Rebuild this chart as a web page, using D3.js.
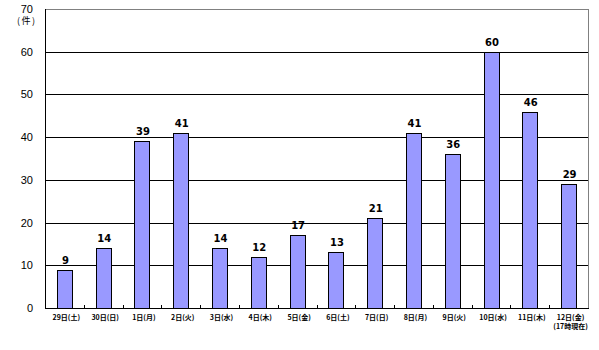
<!DOCTYPE html>
<html><head><meta charset="utf-8">
<script src="https://cdn.jsdelivr.net/npm/d3@7"></script>
<style>body{margin:0;background:#fff}svg{display:block}</style>
</head><body>
<svg id="c" width="599" height="350"></svg>
<script>
const categories = ["29日(土)","30日(日)","1日(月)","2日(火)","3日(水)","4日(木)","5日(金)","6日(土)","7日(日)","8日(月)","9日(火)","10日(水)","11日(木)","12日(金)"];
const subLabels = ["","","","","","","","","","","","","","(17時現在)"];
const values = [9,14,39,41,14,12,17,13,21,41,36,60,46,29];
const yTicks = [0,10,20,30,40,50,60,70];
const yUnit = "(件)";

const svg = d3.select("#c");
const L = 45, R = 588, T = 9, B = 308;
const x = d3.scaleBand().domain(categories).range([L, R]);
const y = d3.scaleLinear().domain([0,70]).range([B, T]);
const font = "'Noto Sans CJK JP', sans-serif";

// gridlines
svg.append("g").selectAll("line").data(yTicks.filter(d=>d>0)).join("line")
  .attr("x1", L).attr("x2", R)
  .attr("y1", d=>Math.round(y(d))+0.5).attr("y2", d=>Math.round(y(d))+0.5)
  .attr("stroke", d=> d===70 ? "#808080" : "#000").attr("stroke-width", 1);
// right border
svg.append("line").attr("x1", R+0.5).attr("x2", R+0.5).attr("y1", Math.round(y(70))).attr("y2", B+1)
  .attr("stroke", "#808080");

// bars
const bw = 15;
svg.append("g").selectAll("rect").data(values).join("rect")
  .attr("x", (d,i)=>Math.round(x(categories[i]) + x.bandwidth()/2 - bw/2)+0.5)
  .attr("y", d=>Math.round(y(d))+0.5)
  .attr("width", bw)
  .attr("height", d=>Math.round(B) - Math.round(y(d)))
  .attr("fill", "#9999ff").attr("stroke", "#000").attr("stroke-width", 1);

// value labels
svg.append("g").selectAll("text").data(values).join("text")
  .attr("x", (d,i)=>x(categories[i]) + x.bandwidth()/2 + 1)
  .attr("y", d=>y(d) - 6)
  .attr("text-anchor", "middle")
  .attr("font-family", "'DejaVu Sans', sans-serif").attr("font-weight", "bold")
  .attr("font-size", 10).attr("fill", "#000")
  .text(d=>d);

// axes lines
svg.append("line").attr("x1", L+0.5).attr("x2", L+0.5).attr("y1", T).attr("y2", B+1).attr("stroke", "#000");
svg.append("line").attr("x1", L).attr("x2", R+1).attr("y1", B+0.5).attr("y2", B+0.5).attr("stroke", "#000");

// inner category ticks
const bounds = categories.slice(1).map(c=>x(c));
svg.append("g").selectAll("line").data(bounds).join("line")
  .attr("x1", d=>Math.round(d)+0.5).attr("x2", d=>Math.round(d)+0.5)
  .attr("y1", B-3).attr("y2", B).attr("stroke", "#000");

// y tick labels
svg.append("g").selectAll("text").data(yTicks).join("text")
  .attr("x", 33).attr("y", d=>y(d)+4)
  .attr("text-anchor", "end")
  .attr("font-family", "'Liberation Sans Narrow', 'Liberation Sans', sans-serif")
  .attr("font-size", 11).attr("fill", "#000")
  .text(d=>d);
svg.append("text").attr("x", 17).attr("y", 24).attr("text-anchor", "start")
  .attr("font-family", font).attr("font-size", 9).attr("letter-spacing", 1.5).text(yUnit);

// category labels
const cg = svg.append("g");
cg.selectAll("text.c").data(categories).join("text").attr("class","c")
  .attr("x", d=>x(d)+x.bandwidth()/2 + 2).attr("y", 320)
  .attr("text-anchor", "middle").attr("font-family", font)
  .attr("font-size", 7).attr("font-weight", "bold").text(d=>d);
cg.selectAll("text.s").data(subLabels).join("text").attr("class","s")
  .attr("x", (d,i)=>x(categories[i])+x.bandwidth()/2 + 2).attr("y", 329)
  .attr("text-anchor", "middle").attr("font-family", font)
  .attr("font-size", 7).attr("font-weight", "bold").text(d=>d);
</script>
</body></html>
